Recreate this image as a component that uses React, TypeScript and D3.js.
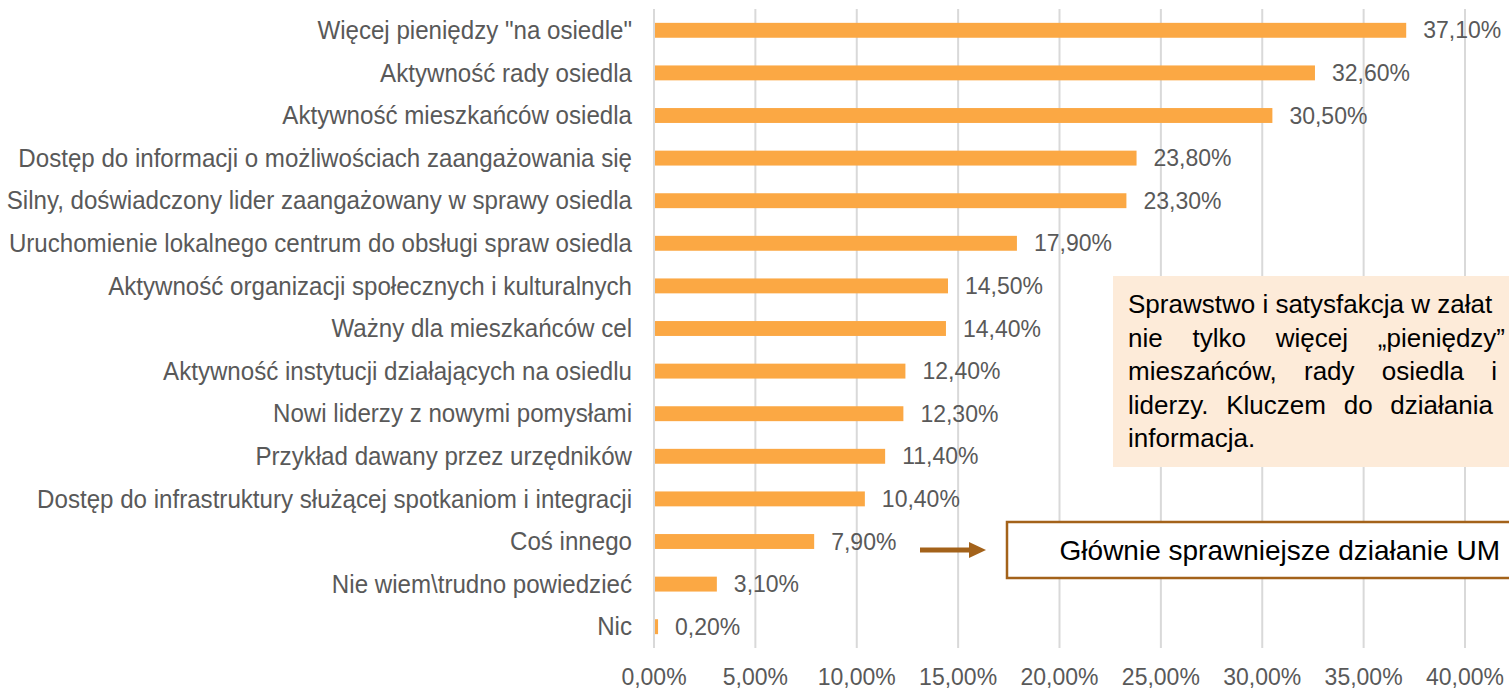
import React from "react";
import * as d3 from "d3";

const categories: string[] = [
  'Więcej pieniędzy "na osiedle"',
  "Aktywność rady osiedla",
  "Aktywność mieszkańców osiedla",
  "Dostęp do informacji o możliwościach zaangażowania się",
  "Silny, doświadczony lider zaangażowany w sprawy osiedla",
  "Uruchomienie lokalnego centrum do obsługi spraw osiedla",
  "Aktywność organizacji społecznych i kulturalnych",
  "Ważny dla mieszkańców cel",
  "Aktywność instytucji działających na osiedlu",
  "Nowi liderzy z nowymi pomysłami",
  "Przykład dawany przez urzędników",
  "Dostęp do infrastruktury służącej spotkaniom i integracji",
  "Coś innego",
  "Nie wiem\\trudno powiedzieć",
  "Nic",
];
const values: number[] = [37.1, 32.6, 30.5, 23.8, 23.3, 17.9, 14.5, 14.4, 12.4, 12.3, 11.4, 10.4, 7.9, 3.1, 0.2];
const xTicks: number[] = [0, 5, 10, 15, 20, 25, 30, 35, 40];

const noteLines: string[][] = [
  ["Sprawstwo", "i", "satysfakcja", "w", "załat"],
  ["nie", "tylko", "więcej", "„pieniędzy”"],
  ["mieszańców,", "rady", "osiedla", "i"],
  ["liderzy.", "Kluczem", "do", "działania"],
  ["informacja."],
];
const noteEnds: (number | null)[] = [null, 1505, 1497, 1493, null];
const calloutText = "Głównie sprawniejsze działanie UM";

const FONT = "'Liberation Sans', Arial, Helvetica, sans-serif";
const fmt = (v: number) => v.toFixed(2).replace(".", ",") + "%";

let ctx: CanvasRenderingContext2D | null = null;
function measure(s: string, size: number): number {
  if (!ctx) {
    const c = document.createElement("canvas");
    ctx = c.getContext("2d");
  }
  if (!ctx) return s.length * size * 0.5;
  ctx.font = `${size}px ${FONT}`;
  return ctx.measureText(s).width;
}

export default function App() {
  const W = 1509;
  const H = 690;
  const x = d3.scaleLinear().domain([0, 40]).range([654, 1465]);
  const y = d3.scaleBand<string>().domain(categories).range([9, 648]).paddingInner(0.65).paddingOuter(0.325);
  const gridTop = 9;
  const gridBottom = 648;
  const numSize = 23;
  const catSize = 25;
  const catScale = 0.965;
  const noteSize = 26;
  const noteX = 1128;
  const noteBase = 313;
  const noteStep = 33.5;
  const brown = "#A3621A";

  const noteWords = noteLines.map((words, i) => {
    const end = noteEnds[i];
    const widths = words.map((w) => measure(w, noteSize));
    const space = measure(" ", noteSize);
    let gap = space;
    if (end !== null && words.length > 1) {
      const total = widths.reduce((a, b) => a + b, 0);
      gap = (end - noteX - total) / (words.length - 1);
    }
    let cx = noteX;
    return words.map((w, j) => {
      const pos = cx;
      cx += widths[j] + gap;
      return { w, pos };
    });
  });

  const labelX = x(0) - 22;

  return (
    <svg width={W} height={H} style={{ position: "absolute", left: 0, top: 0, background: "#fff" }} fontFamily={FONT}>
      {xTicks.map((t) => (
        <line key={t} x1={x(t)} x2={x(t)} y1={gridTop} y2={gridBottom} stroke="#D9D9D9" strokeWidth={2} />
      ))}
      {categories.map((c, i) => {
        const cy = y(c)! + y.bandwidth() / 2;
        return (
          <g key={c}>
            <rect x={x(0) + 1} y={y(c)!} width={x(values[i]) - x(0) - 1} height={y.bandwidth()} fill="#FBA844" />
            <text
              transform={`translate(${labelX},${cy}) scale(${catScale},1)`}
              dy="0.35em"
              textAnchor="end"
              fontSize={catSize}
              fill="#595959"
            >
              {c}
            </text>
            <text x={x(values[i]) + 17} y={cy} dy="0.35em" fontSize={numSize} fill="#595959">
              {fmt(values[i])}
            </text>
          </g>
        );
      })}
      {xTicks.map((t) => (
        <text key={"t" + t} x={x(t)} y={685} textAnchor="middle" fontSize={numSize} fill="#595959">
          {fmt(t)}
        </text>
      ))}
      <rect x={1113} y={276} width={420} height={191} fill="#FDEBD9" />
      {noteWords.map((line, i) => (
        <text key={"n" + i} y={noteBase + i * noteStep} fontSize={noteSize} fill="#000">
          {line.map((o, j) => (
            <tspan key={j} x={o.pos}>{o.w}</tspan>
          ))}
        </text>
      ))}
      <rect x={1007} y={522} width={520} height={56} fill="#fff" stroke={brown} strokeWidth={2.5} />
      <text x={1500} y={550} dy="0.35em" textAnchor="end" fontSize={28} fill="#000">{calloutText}</text>
      <line x1={920} x2={971} y1={550} y2={550} stroke={brown} strokeWidth={5} />
      <path d="M969,542 L986,550 L969,558 Z" fill={brown} />
    </svg>
  );
}
